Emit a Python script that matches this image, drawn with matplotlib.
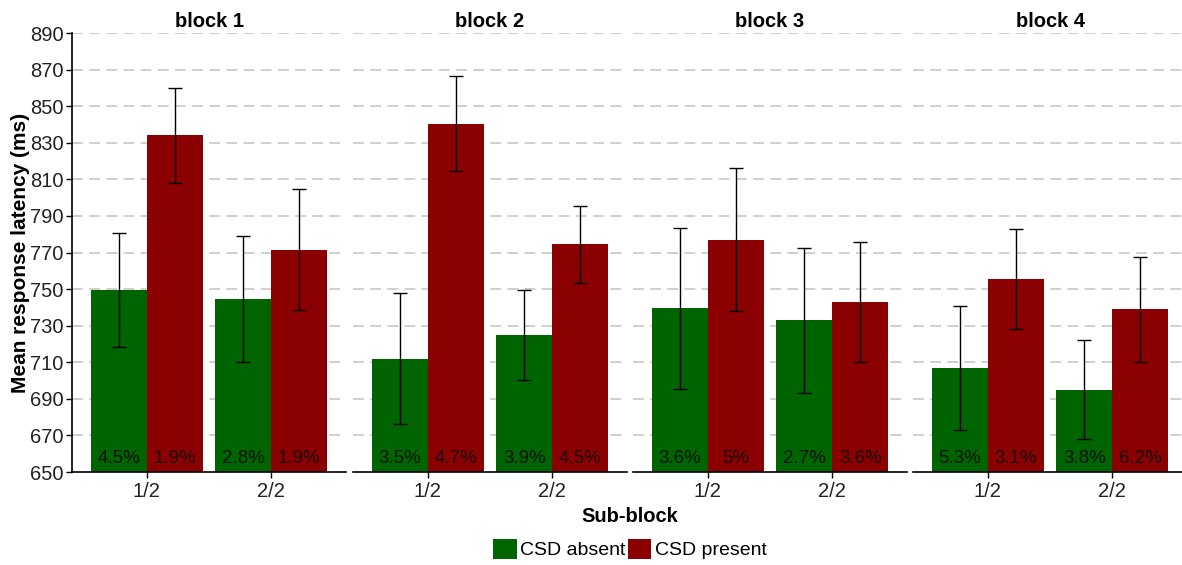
import matplotlib
matplotlib.use("Agg")
import matplotlib.pyplot as plt
from matplotlib.patches import Patch
import numpy as np

plt.rcParams['font.family'] = ['Liberation Sans', 'DejaVu Sans']

blocks = ["block 1", "block 2", "block 3", "block 4"]
sub_blocks = ["1/2", "2/2"]

# mean response latency (ms), per block: [1/2, 2/2]
absent_mean = [[749.5, 744.5], [712.0, 725.0], [739.5, 733.0], [707.0, 695.0]]
present_mean = [[834.0, 771.5], [840.5, 774.5], [777.0, 743.0], [755.5, 739.0]]
absent_err = [[31.0, 34.5], [36.0, 24.7], [44.0, 39.7], [34.0, 27.0]]
present_err = [[26.0, 33.0], [26.0, 21.0], [39.0, 33.0], [27.5, 28.6]]
absent_pct = [["4.5%", "2.8%"], ["3.5%", "3.9%"], ["3.6%", "2.7%"], ["5.3%", "3.8%"]]
present_pct = [["1.9%", "1.9%"], ["4.7%", "4.5%"], ["5%", "3.6%"], ["3.1%", "6.2%"]]

yticks = list(range(650, 891, 20))

green = "#006400"
red = "#8b0000"

W, H = 1182, 565
fig = plt.figure(figsize=(W / 100, H / 100), dpi=100)

panel_left = [72, 353, 633, 913]
panel_w = 274
ax_bottom, ax_top = 472, 33

x = np.arange(1, len(sub_blocks) + 1)
bw = 0.45

for i, name in enumerate(blocks):
    ax = fig.add_axes([panel_left[i] / W, (H - ax_bottom) / H,
                       panel_w / W, (ax_bottom - ax_top) / H])
    ax.set_xlim(0.4, 2.6)
    ax.set_ylim(650, 890)
    ax.set_yticks(yticks)
    for yv in yticks[1:]:
        ax.axhline(yv, color="#cccccc", lw=1.3, ls=(0, (6, 3.5)), zorder=0)
    ax.bar(x - bw / 2, absent_mean[i], width=bw, color=green, zorder=2)
    ax.bar(x + bw / 2, present_mean[i], width=bw, color=red, zorder=2)
    ax.errorbar(x - bw / 2, absent_mean[i], yerr=absent_err[i], fmt="none",
                ecolor="black", elinewidth=1.0, capsize=5, capthick=1.0, zorder=3)
    ax.errorbar(x + bw / 2, present_mean[i], yerr=present_err[i], fmt="none",
                ecolor="black", elinewidth=1.0, capsize=5, capthick=1.0, zorder=3)
    for j in range(len(sub_blocks)):
        ax.text(x[j] - bw / 2, 653, absent_pct[i][j], ha="center", va="bottom",
                fontsize=13.5, color="black", alpha=0.8, zorder=4)
        ax.text(x[j] + bw / 2, 653, present_pct[i][j], ha="center", va="bottom",
                fontsize=13.5, color="black", alpha=0.8, zorder=4)
    ax.set_xticks(x)
    ax.set_xticklabels(sub_blocks, fontsize=14.5, color="#222222")
    ax.set_title(name, fontsize=14.5, fontweight="bold", pad=4)
    for s in ("top", "right"):
        ax.spines[s].set_visible(False)
    ax.spines["bottom"].set_linewidth(1.2)
    ax.tick_params(axis="x", length=4, width=1, pad=3)
    if i == 0:
        ax.spines["left"].set_linewidth(1.2)
        ax.tick_params(axis="y", labelsize=14.5, labelcolor="#222222",
                       length=4, width=1, pad=2)
        ax.set_ylabel("Mean response latency (ms)", fontsize=15,
                      fontweight="bold", labelpad=0)
    else:
        ax.spines["left"].set_visible(False)
        ax.tick_params(axis="y", left=False, labelleft=False)

fig.text(630 / W, (H - 516) / H, "Sub-block", ha="center", va="center",
         fontsize=14.5, fontweight="bold")

handles = [Patch(facecolor=green, label="CSD absent"),
           Patch(facecolor=red, label="CSD present")]
fig.legend(handles=handles, loc="center", bbox_to_anchor=(630 / W, (H - 549) / H),
           ncol=2, frameon=False, fontsize=14, handlelength=1.2, handleheight=1.2,
           handletextpad=0.2, columnspacing=0.1, borderaxespad=0)

fig.savefig("out.png", dpi=100)
